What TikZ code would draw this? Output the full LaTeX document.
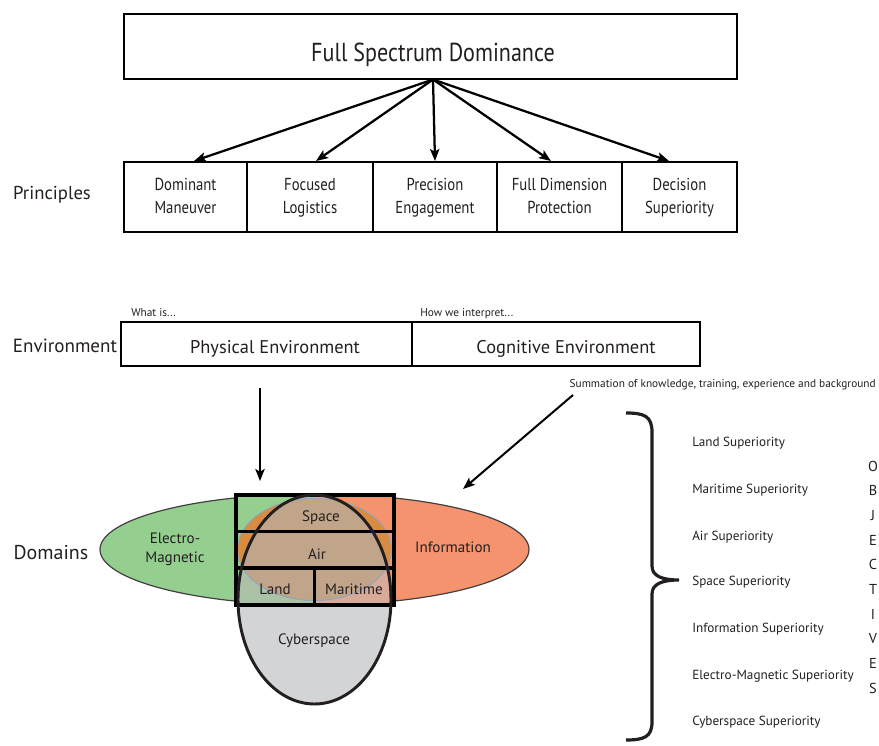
\documentclass[tikz,border=0pt]{standalone}
\usepackage{fontspec}
\setmainfont{PT Sans}
\newfontfamily\narrowfont[FakeStretch=0.85]{PT Sans}
\usetikzlibrary{arrows.meta,calc}

\newcommand{\fsz}[2]{\fontsize{#1pt}{#2pt}\selectfont}

\definecolor{emgreen}{RGB}{149,207,143}
\definecolor{infoorange}{RGB}{245,147,111}
\definecolor{cybergrey}{RGB}{211,212,214}
\definecolor{airtan}{RGB}{193,165,138}
\definecolor{airedge}{RGB}{216,140,66}
\definecolor{landmix}{RGB}{172,194,168}
\definecolor{seamix}{RGB}{215,170,153}
\definecolor{ringblue}{RGB}{150,162,182}
\definecolor{inkdark}{RGB}{35,31,32}
\definecolor{textgrey}{RGB}{35,31,32}

\tikzset{
  framebox/.style={draw=black, line width=1.5pt, inner sep=0pt, fill=white},
  pbox/.style={draw=black, line width=1.5pt, minimum height=70*0.75pt, inner sep=0pt,
    align=center, font=\narrowfont\fsz{13}{17.25}, text=textgrey},
  envbox/.style={draw=black, line width=1.9pt, minimum height=44*0.75pt, inner sep=0pt},
  envtext/.style={font=\fsz{13.8}{16}, text=textgrey, inner sep=0pt, text height=9.8pt, text depth=0pt},
  sidelabel/.style={font=\fsz{14}{16}, text=textgrey, inner sep=0pt},
  smallnote/.style={font=\fsz{8.5}{10}, text=textgrey, inner sep=0pt, anchor=base west},
  tinynote/.style={font=\fsz{8.5}{10}, text=textgrey, inner sep=0pt},
  dtext/.style={font=\fsz{11.3}{14}, text=textgrey, inner sep=0pt, align=center},
  suptext/.style={font=\fsz{9.9}{12}, text=textgrey, inner sep=0pt, anchor=west},
  objletter/.style={font=\fsz{10.8}{12}, text=textgrey, inner sep=0pt},
  fan/.style={-{Stealth[length=9pt,width=7pt,inset=2pt]}, line width=1.7pt},
  feed/.style={-{Stealth[length=9pt,width=7pt,inset=2pt]}, line width=1.5pt},
  gridline/.style={line width=2.5pt, black},
}

\begin{document}
\begin{tikzpicture}[x=0.75pt,y=-0.75pt]
\useasboundingbox (0,0) rectangle (879,746);

% ---------- top: Full Spectrum Dominance and principles ----------
\node[framebox, minimum width=613*0.75pt, minimum height=65*0.75pt] (fsd) at (430.5,46) {};
\node[font=\narrowfont\fsz{19.5}{22}, text=textgrey, inner sep=0pt] (fsdtext) at (433,54.5) {Full Spectrum Dominance};
\coordinate (hub) at ($(fsd.south)+(2.5,0)$);

\node[pbox, minimum width=123*0.75pt] (dm) at (185.5,197) {Dominant\strut\\Maneuver\strut};
\node[pbox, minimum width=126*0.75pt] (fl) at (310,197) {Focused\strut\\Logistics\strut};
\node[pbox, minimum width=124*0.75pt] (pe) at (435,197) {Precision\strut\\Engagement\strut};
\node[pbox, minimum width=125*0.75pt] (fdp) at (559.5,197) {Full Dimension\strut\\Protection\strut};
\node[pbox, minimum width=115*0.75pt] (ds) at (679.5,197) {Decision\strut\\Superiority\strut};

\draw[fan] (hub) -- ($(dm.north)+(8.5,0)$);
\draw[fan] (hub) -- ($(fl.north)+(6,0)$);
\draw[fan] (hub) -- (pe.north);
\draw[fan] (hub) -- ($(fdp.north)+(-8.5,0)$);
\draw[fan] (hub) -- ($(ds.north)+(-10.5,0)$);

\node[sidelabel] (principles) at (52,195) {Principles};

% ---------- environment ----------
\node[envbox, minimum width=291*0.75pt] (phys) at (266.5,344) {};
\node[envbox, minimum width=288*0.75pt] (cogn) at (556,344) {};
\node[envtext] (physlabel) at (275,346.5) {Physical Environment};
\node[envtext] (cognlabel) at (566,346.5) {Cognitive Environment};
\node[sidelabel, font=\fsz{14.3}{16}] (envlabel) at (65,346) {Environment};
\node[smallnote] (whatis) at (131,316) {What is...};
\node[smallnote] (howwe) at (420,316) {How we interpret...};
\node[tinynote, anchor=base east] (summation) at (876,387.5) {Summation of knowledge, training, experience and background};

\coordinate (physout) at (260,388);
\coordinate (physin) at (260,481);
\draw[feed] (physout) -- (physin);
\coordinate (cognout) at (573,395);
\coordinate (cognin) at (463,489);
\draw[feed] (cognout) -- (cognin);

% ---------- domains ----------
\node[sidelabel, font=\fsz{15}{17}] (domains) at (51,553) {Domains};
\coordinate (dc) at (314.5,549.5);
\coordinate (vc) at (314.5,599.5);

% outer ellipse: electro-magnetic half and information half
\begin{scope}
  \clip (90,480) rectangle (314.5,620);
  \fill[emgreen] (dc) ellipse [x radius=214.5, y radius=55.5];
\end{scope}
\begin{scope}
  \clip (314.5,480) rectangle (540,620);
  \fill[infoorange] (dc) ellipse [x radius=214.5, y radius=55.5];
\end{scope}
\draw[line width=0.9pt, black!75] (dc) ellipse [x radius=214.5, y radius=55.5];
\fill[emgreen] (236,495) rectangle (314.5,605);
\fill[infoorange] (314.5,495) rectangle (394,605);

% cyberspace ellipse and its overlap with the outer halves
\fill[cybergrey] (vc) ellipse [x radius=76.5, y radius=104.5];
\begin{scope}
  \clip (vc) ellipse [x radius=76.5, y radius=104.5];
  \fill[landmix] (236,495) rectangle (314.5,605);
  \fill[seamix] (314.5,495) rectangle (394,605);
\end{scope}

% air and space lens
\fill[airedge] (dc) ellipse [x radius=77, y radius=51];
\begin{scope}
  \clip (vc) ellipse [x radius=76.5, y radius=104.5];
  \fill[airtan] (dc) ellipse [x radius=77, y radius=51];
\end{scope}
\draw[ringblue, line width=0.7pt] (dc) ellipse [x radius=77, y radius=51];

% grid of physical domains
\draw[gridline] (236,495) rectangle (394,605);
\draw[gridline] (236,531.5) -- (394,531.5);
\draw[gridline] (236,568) -- (394,568);
\draw[gridline] (314.5,568) -- (314.5,605);
\draw[inkdark, line width=2.2pt] (vc) ellipse [x radius=76.5, y radius=104.5];

\node[dtext] (space) at (321,518) {Space};
\node[dtext] (air) at (317,554) {Air};
\node[dtext] (land) at (275,589) {Land};
\node[dtext] (maritime) at (354,589) {Maritime};
\node[dtext] (cyber) at (314,641) {Cyberspace};
\node[dtext] (em) at (175,549) {Electro-\\Magnetic};
\node[dtext] (info) at (453,547) {Information};

% ---------- objectives ----------
\draw[line width=2.4pt, inkdark]
  (626,413) .. controls (644,413) and (652,416) .. (652,432)
  -- (652,566) .. controls (652,576) and (662,580) .. (679,580)
  .. controls (662,580) and (652,584) .. (652,594)
  -- (652,722) .. controls (652,737) and (644,740) .. (626,740);

\node[suptext] (s1) at (692,443) {Land Superiority};
\node[suptext] (s2) at (692,490) {Maritime Superiority};
\node[suptext] (s3) at (692,537) {Air Superiority};
\node[suptext] (s4) at (692,582) {Space Superiority};
\node[suptext] (s5) at (692,629) {Information Superiority};
\node[suptext] (s6) at (692,676) {Electro-Magnetic Superiority};
\node[suptext] (s7) at (692,722) {Cyberspace Superiority};

\foreach \ch [count=\i] in {O,B,J,E,C,T,I,V,E,S} {
  \node[objletter] (obj\i) at (873,{466+(\i-1)*24.7}) {\ch};
}
\end{tikzpicture}
\end{document}
